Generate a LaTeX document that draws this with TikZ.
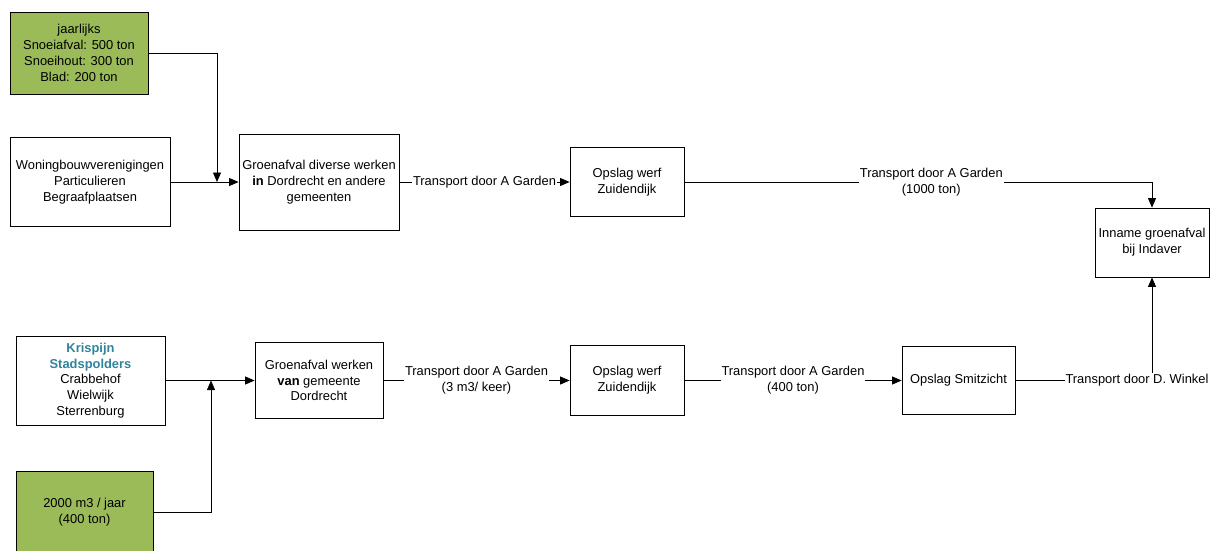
\documentclass[tikz,border=0pt]{standalone}
\usepackage{fontspec}
\setmainfont{Liberation Sans}
\usetikzlibrary{arrows.meta}
\definecolor{boxgreen}{HTML}{9BBB59}
\definecolor{tealtxt}{HTML}{31849B}
\begin{document}
\begin{tikzpicture}[x=1pt,y=-1pt,
  every node/.style={font=\fontsize{12.9}{15.8}\selectfont},
  box/.style={draw=black,line width=0.8pt,fill=white,align=center,inner sep=0pt},
  gbox/.style={box,fill=boxgreen},
  conn/.style={line width=0.8pt,draw=black},
  arr/.style={conn,-{Triangle[length=9.5pt,width=8pt]}},
  lbl/.style={fill=white,inner sep=1pt,align=center}]
\useasboundingbox (0,0) rectangle (1210,550);
% nodes
\node[gbox,minimum width=138pt,minimum height=82pt] (A) at (79,53) {jaarlijks\\Snoeiafval: 500 ton\\Snoeihout: 300 ton\\Blad: 200 ton};
\node[box,minimum width=160pt,minimum height=89pt] (B) at (90,182) {Woningbouwverenigingen\\Particulieren\\Begraafplaatsen};
\node[box,minimum width=160pt,minimum height=96pt] (C) at (319,182) {Groenafval diverse werken\\\textbf{in} Dordrecht en andere\\gemeenten};
\node[box,minimum width=114pt,minimum height=69pt] (O1) at (627,182) {Opslag werf\\Zuidendijk};
\node[box,minimum width=114pt,minimum height=69pt] (I) at (1152,242.5) {Inname groenafval\\bij Indaver};
\node[box,minimum width=149pt,minimum height=89pt] (D) at (90.5,380.5) {\textcolor{tealtxt}{\textbf{Krispijn}}\\\textcolor{tealtxt}{\textbf{Stadspolders}}\\Crabbehof\\Wielwijk\\Sterrenburg};
\node[box,minimum width=128pt,minimum height=76pt] (E) at (319,380.5) {Groenafval werken\\\textbf{van} gemeente\\Dordrecht};
\node[box,minimum width=114pt,minimum height=70pt] (O2) at (627,380.5) {Opslag werf\\Zuidendijk};
\node[box,minimum width=113pt,minimum height=68pt] (S) at (958.5,380.5) {Opslag Smitzicht};
\node[gbox,minimum width=137pt,minimum height=82pt] (F) at (84.5,512) {2000 m3 / jaar\\(400 ton)};
% junctions
\coordinate (j1) at (217,182);
\coordinate (j2) at (211,380.5);
% connectors
\draw[arr] (A.east) -| (j1);
\draw[arr] (B.east) -- (C.west);
\draw[arr] (C.east) -- node[lbl] {Transport door A Garden} (O1.west);
\draw[arr] (O1.east) -| node[lbl,pos=0.264] {Transport door A Garden\\(1000 ton)} (I.north);
\draw[arr] (D.east) -- (E.west);
\draw[arr] (F.east) -| (j2);
\draw[arr] (E.east) -- node[lbl] {Transport door A Garden\\(3 m3/ keer)} (O2.west);
\draw[arr] (O2.east) -- node[lbl] {Transport door A Garden\\(400 ton)} (S.west);
\draw[arr] (S.east) -| node[lbl,pos=0.445] {Transport door D. Winkel} (I.south);
\end{tikzpicture}
\end{document}
